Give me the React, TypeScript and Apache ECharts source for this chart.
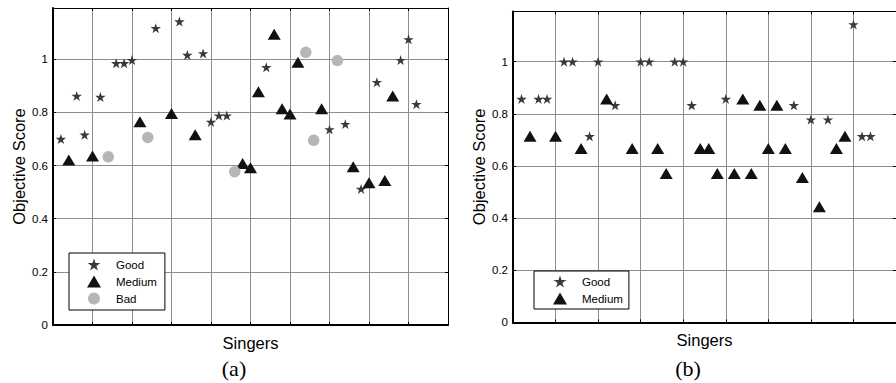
import React, { useEffect, useRef } from "react";
import * as echarts from "echarts";

// Panel (a): objective score per singer, grouped by rated quality
const goodA: [number, number][] = [
  [1, 0.7], [3, 0.862], [4, 0.716], [6, 0.858], [8, 0.985], [9, 0.985], [10, 0.997],
  [13, 1.117], [16, 1.142], [17, 1.016], [19, 1.022], [20, 0.764], [21, 0.788], [22, 0.788],
  [27, 0.97], [35, 0.736], [37, 0.756], [39, 0.512], [41, 0.914], [44, 0.997], [45, 1.075],
  [46, 0.831],
];
const mediumA: [number, number][] = [
  [2, 0.621], [5, 0.636], [11, 0.765], [15, 0.796], [18, 0.716], [24, 0.608], [25, 0.592],
  [26, 0.878], [28, 1.094], [29, 0.814], [30, 0.794], [31, 0.989], [34, 0.814], [38, 0.596],
  [40, 0.535], [42, 0.544], [43, 0.862],
];
const badA: [number, number][] = [
  [7, 0.633], [12, 0.706], [23, 0.577], [32, 1.026], [33, 0.695], [36, 0.995],
];

// Panel (b)
const goodB: [number, number][] = [
  [1, 0.857], [3, 0.857], [4, 0.857], [6, 1], [7, 1], [9, 0.714], [10, 1], [12, 0.833],
  [15, 1], [16, 1], [19, 1], [20, 1], [21, 0.833], [25, 0.857], [33, 0.833], [35, 0.778],
  [37, 0.778], [40, 1.143], [41, 0.714], [42, 0.714],
];
const mediumB: [number, number][] = [
  [2, 0.714], [5, 0.714], [8, 0.667], [11, 0.857], [14, 0.667], [17, 0.667], [18, 0.571],
  [22, 0.667], [23, 0.667], [24, 0.571], [26, 0.571], [27, 0.857], [28, 0.571], [29, 0.833],
  [30, 0.667], [31, 0.833], [32, 0.667], [34, 0.556], [36, 0.444], [38, 0.667], [39, 0.714],
];

const xMaxA = 50;
const xMaxB = 45;
const xStep = 5;
const yMax = 1.193;
const yStep = 0.2;

const STAR =
  "path://M50,0 L61.8,36.2 L100,36.2 L69.1,58.8 L80.9,95.1 L50,72.6 L19.1,95.1 L30.9,58.8 L0,36.2 L38.2,36.2 Z";

const SANS = "'Liberation Sans', Arial, sans-serif";
const SERIF = "'Liberation Serif', 'Times New Roman', serif";

const gridColor = "#8e8e8e";

function bottomX(gridIndex: number, max: number) {
  return {
    type: "value",
    gridIndex,
    position: "bottom",
    min: 0,
    max,
    interval: xStep,
    name: "Singers",
    nameLocation: "middle",
    nameGap: 9,
    nameTextStyle: { fontFamily: SANS, fontSize: 16.5, color: "#000", verticalAlign: "top" },
    axisLine: { show: true, onZero: false, lineStyle: { color: "#000", width: 2 } },
    axisTick: { show: true, inside: true, length: 3, lineStyle: { color: "#000" } },
    axisLabel: { show: false },
    splitLine: { show: true, lineStyle: { color: gridColor, width: 1 } },
  };
}

function topX(gridIndex: number, max: number) {
  return {
    type: "value",
    gridIndex,
    position: "top",
    min: 0,
    max,
    interval: xStep,
    axisLine: { show: true, onZero: false, lineStyle: { color: "#000", width: 1 } },
    axisTick: { show: true, inside: true, length: 3, lineStyle: { color: "#000" } },
    axisLabel: { show: false },
    splitLine: { show: false },
  };
}

function leftY(gridIndex: number) {
  return {
    type: "value",
    gridIndex,
    position: "left",
    min: 0,
    max: yMax,
    interval: yStep,
    name: "Objective Score",
    nameLocation: "middle",
    nameRotate: 90,
    nameGap: 26,
    nameTextStyle: { fontFamily: SANS, fontSize: 16.5, color: "#000" },
    axisLine: { show: true, onZero: false, lineStyle: { color: "#000", width: 2 } },
    axisTick: { show: true, inside: true, length: 3, lineStyle: { color: "#000" } },
    axisLabel: {
      show: true,
      margin: 5,
      showMaxLabel: false,
      fontFamily: SANS,
      fontSize: 11.5,
      color: "#000",
    },
    splitLine: { show: true, lineStyle: { color: gridColor, width: 1 } },
  };
}

function rightY(gridIndex: number) {
  return {
    type: "value",
    gridIndex,
    position: "right",
    min: 0,
    max: yMax,
    interval: yStep,
    axisLine: { show: true, onZero: false, lineStyle: { color: "#000", width: 1 } },
    axisTick: { show: true, inside: true, length: 3, lineStyle: { color: "#000" } },
    axisLabel: { show: false },
    splitLine: { show: false },
  };
}

function goodSeries(data: [number, number][], axisIndex: number) {
  return {
    name: "Good",
    type: "scatter",
    xAxisIndex: axisIndex,
    yAxisIndex: axisIndex,
    data,
    symbol: STAR,
    symbolKeepAspect: true,
    symbolSize: 10.5,
    itemStyle: { color: "#3a3a3a", opacity: 1 },
    z: 3,
  };
}

function mediumSeries(data: [number, number][], axisIndex: number) {
  return {
    name: "Medium",
    type: "scatter",
    xAxisIndex: axisIndex,
    yAxisIndex: axisIndex,
    data,
    symbol: "triangle",
    symbolSize: [13, 11],
    itemStyle: { color: "#111111", opacity: 1 },
    z: 3,
  };
}

function badSeries(data: [number, number][], axisIndex: number) {
  return {
    name: "Bad",
    type: "scatter",
    xAxisIndex: axisIndex,
    yAxisIndex: axisIndex,
    data,
    symbol: "circle",
    symbolSize: 11.5,
    itemStyle: { color: "#b6b6b6", opacity: 1 },
    z: 3,
  };
}

function legendBox(left: number, top: number, names: string[], padding: number[]) {
  return {
    show: true,
    orient: "vertical",
    left,
    top,
    data: names,
    selectedMode: false,
    backgroundColor: "#fff",
    borderColor: "#000",
    borderWidth: 1,
    borderRadius: 0,
    padding,
    itemWidth: 14,
    itemHeight: 12,
    itemGap: 5,
    textStyle: { fontFamily: SANS, fontSize: 11.5, color: "#000", padding: [0, 0, 0, 10] },
  };
}

export default function App() {
  const ref = useRef<HTMLDivElement>(null);

  useEffect(() => {
    if (!ref.current) return;
    const chart = echarts.init(ref.current, undefined, { renderer: "svg" });
    chart.setOption({
      animation: false,
      backgroundColor: "#fff",
      grid: [
        { left: 53, top: 8, width: 395, height: 317 },
        { left: 513, top: 11.4, width: 391, height: 311 },
      ],
      xAxis: [bottomX(0, xMaxA), topX(0, xMaxA), bottomX(1, xMaxB), topX(1, xMaxB)],
      yAxis: [leftY(0), rightY(0), leftY(1), rightY(1)],
      legend: [
        legendBox(69, 253, ["Good", "Medium", "Bad"], [5.5, 8, 5.5, 18]),
        legendBox(534, 271, ["Good", "Medium"], [4.5, 6, 4.5, 19]),
      ],
      series: [
        goodSeries(goodA, 0),
        mediumSeries(mediumA, 0),
        badSeries(badA, 0),
        goodSeries(goodB, 2),
        mediumSeries(mediumB, 2),
      ],
      graphic: [
        {
          type: "text",
          x: 234,
          y: 368,
          style: {
            text: "(a)",
            font: `22px ${SERIF}`,
            fill: "#000",
            textAlign: "center",
            textVerticalAlign: "middle",
          },
        },
        {
          type: "text",
          x: 688,
          y: 368,
          style: {
            text: "(b)",
            font: `22px ${SERIF}`,
            fill: "#000",
            textAlign: "center",
            textVerticalAlign: "middle",
          },
        },
      ],
    });
    return () => chart.dispose();
  }, []);

  return (
    <div
      ref={ref}
      style={{ position: "absolute", left: 0, top: 0, width: 896, height: 383 }}
    />
  );
}
